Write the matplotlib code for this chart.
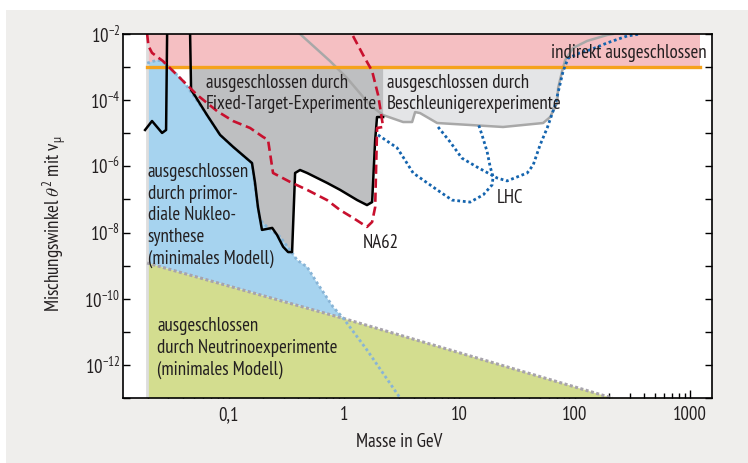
import numpy as np
import matplotlib.pyplot as plt
from matplotlib import font_manager
from matplotlib.patches import Rectangle
from matplotlib.ticker import FixedLocator, LogLocator, NullFormatter

# pick a condensed sans face if one is installed
installed = {f.name for f in font_manager.fontManager.ttflist}
candidates = ['PT Sans Narrow', 'Fira Sans Condensed', 'Roboto Condensed', 'Asap Condensed',
              'Encode Sans Condensed', 'Archivo Narrow', 'Liberation Sans Narrow',
              'Barlow Semi Condensed', 'Open Sans Condensed']
font = next((c for c in candidates if c in installed), 'Liberation Sans')
plt.rcParams['font.family'] = [font, 'DejaVu Sans']
plt.rcParams['mathtext.fontset'] = 'custom'
plt.rcParams['mathtext.rm'] = font
plt.rcParams['mathtext.it'] = font + ':italic'
plt.rcParams['mathtext.sf'] = font

# masses in GeV, mixing angles given as log10(theta^2)
m_bbn = [0.0196, 0.0239, 0.0264, 0.031, 0.0402, 0.049, 0.0648, 0.0841, 0.109, 0.159,
         0.169, 0.187, 0.215, 0.279, 0.340, 0.391, 0.478, 0.583, 0.803, 0.98, 1.58, 3.06]
lt_bbn = [-2.88, -2.79, -2.82, -3.03, -3.42, -3.84, -4.45, -5.05, -5.41, -5.90,
          -6.62, -7.62, -7.83, -8.13, -8.53, -8.83, -9.04, -9.52, -10.25, -10.58, -11.55, -13.0]

m_nu = [0.0196, 1.0, 211]
lt_nu = [-8.92, -10.6, -13.0]

m_fix_a = [0.0188, 0.0216, 0.0264, 0.0286, 0.0292]
lt_fix_a = [-4.90, -4.63, -4.99, -4.90, -2.0]

m_fix = [0.0462, 0.0471, 0.051, 0.0648, 0.0841, 0.109, 0.159, 0.169, 0.179, 0.194,
         0.238, 0.262, 0.296, 0.327, 0.354, 0.376, 0.415, 0.478, 0.712, 0.923,
         1.30, 1.58, 1.75, 1.86, 1.93, 2.18]
lt_fix = [-2.0, -3.69, -3.87, -4.45, -5.05, -5.41, -5.90, -6.50, -7.23, -7.92,
          -7.86, -8.07, -8.43, -8.59, -8.59, -6.20, -6.11, -6.20, -6.50, -6.71,
          -7.02, -7.17, -7.08, -5.20, -4.51, -4.51]

m_acc = [0.415, 0.756, 1.06, 1.68, 2.18, 3.25, 3.89, 4.13, 4.56, 6.41, 12.4, 23.9,
         53.2, 61.2, 70.4, 71.8, 77.8, 82.6, 96.9, 128, 191, 215]
lt_acc = [-2.0, -2.82, -3.33, -4.15, -4.45, -4.66, -4.66, -4.36, -4.39, -4.69, -4.75, -4.81,
          -4.69, -4.51, -4.08, -3.63, -3.12, -2.79, -2.42, -2.21, -2.03, -2.0]

m_na62 = [0.0196, 0.0201, 0.0216, 0.0269, 0.0356, 0.0531, 0.0792, 0.109, 0.153, 0.198,
          0.219, 0.242, 0.340, 0.478, 0.712, 0.923, 1.20, 1.58, 1.75, 1.86, 1.93,
          1.93, 2.18, 2.05, 1.97, 1.75, 1.46, 1.17]
lt_na62 = [-2.0, -2.36, -2.57, -2.82, -3.24, -3.84, -4.33, -4.63, -4.84, -5.11,
           -5.20, -6.20, -6.47, -6.71, -7.02, -7.32, -7.56, -7.83, -7.68, -7.23, -4.90,
           -4.84, -4.81, -4.21, -3.84, -3.12, -2.63, -2.0]

m_lhc_a = [1.97, 2.88, 3.25, 3.97, 6.41, 8.65, 12.4, 16.1, 19.2, 19.6, 18.5, 17.4, 15.7, 14.5]
lt_lhc_a = [-5.05, -5.44, -5.72, -6.20, -6.71, -7.02, -7.08, -6.86, -6.56, -6.32, -6.02,
            -5.56, -5.05, -4.69]

m_lhc_b = [6.53, 8.30, 10.5, 14.2, 21.2, 25.9, 38.7, 43.6, 50.1, 57.7, 67.6, 79.3, 87.7,
           111, 136, 191, 285, 369]
lt_lhc_b = [-4.81, -5.26, -5.75, -6.02, -6.35, -6.44, -6.20, -5.96, -5.35, -4.84, -4.15,
            -3.12, -2.73, -2.57, -2.48, -2.27, -2.06, -2.0]

m_indirect = [0.0196, 1224]
indirect_limit = 1e-3

xticks = [0.1, 1, 10, 100, 1000]
xtick_labels = ['0,1', '1', '10', '100', '1000']
yexp = [-12, -10, -8, -6, -4, -2]

th = lambda v: 10.0 ** np.array(v)
txt = '#231f20'

fig = plt.figure(figsize=(7.48, 4.63), dpi=100, facecolor='white')
fig.patches.append(Rectangle((6 / 748, 0), 1, 1 - 10 / 463, transform=fig.transFigure,
                             facecolor='#efeeec', edgecolor='none', zorder=-10))
ax = fig.add_axes([123 / 748, 1 - 398 / 463, 589 / 748, 364 / 463])
ax.set_xscale('log')
ax.set_yscale('log')
ax.set_xlim(0.0121, 1550)
ax.set_ylim(1e-13, 1e-2)

# size the text so that "Fixed-Target-Experimente" is ~171 px wide, lines 21 px apart
r = fig.canvas.get_renderer()
p1 = fig.text(0, 0, 'Fixed-Target-Experimente', fontsize=11)
p2 = fig.text(0, 0, 'Ay\nAy', fontsize=11, linespacing=1.2)
p3 = fig.text(0, 0, 'Ay', fontsize=11)
fs = 11 * 171 / p1.get_window_extent(r).width
gap = p2.get_window_extent(r).height - p3.get_window_extent(r).height
ls = 1.2 * 21 / (gap * fs / 11)
for p in (p1, p2, p3):
    p.remove()

# filled regions
ax.fill(m_acc, th(lt_acc), color='#e4e5e7', lw=0, zorder=1)
ax.fill_between(m_indirect, indirect_limit, 1e-2, color='#f5bfc2', lw=0, zorder=2)
ax.fill(m_fix[1:] + [m_fix[-1], m_fix[0]], th(lt_fix[1:] + [-3.0, -3.0]),
        color='#bebfc1', lw=0, zorder=3)
ax.fill(m_bbn[:20] + [m_nu[0]], th(lt_bbn[:20] + [lt_nu[0]]), color='#a6d3ef', lw=0, zorder=3)
ax.fill(m_nu + [m_nu[0]], th(lt_nu + [-13.0]), color='#d3dd8f', lw=0, zorder=3)
ax.axvline(0.0196, color='#dddddd', lw=2, zorder=3.5)

# boundary lines
ax.plot(m_nu, th(lt_nu), color='#a7a3ab', lw=2.2, ls=(0, (1, 0.8)), zorder=5)
ax.plot(m_bbn, th(lt_bbn), color='#88b4d6', lw=2, ls=(0, (1, 1)), zorder=5)
ax.plot(m_acc, th(lt_acc), color='#a8a8a8', lw=1.8, zorder=5)
ax.plot(m_indirect, [indirect_limit] * 2, color='#f5a21c', lw=2.4, zorder=6)
ax.plot(m_fix_a, th(lt_fix_a), color='black', lw=1.8, zorder=6)
ax.plot(m_fix, th(lt_fix), color='black', lw=1.8, zorder=6)
ax.plot(m_lhc_a, th(lt_lhc_a), color='#1464ae', lw=2, ls=(0, (1, 1)), zorder=6)
ax.plot(m_lhc_b, th(lt_lhc_b), color='#1464ae', lw=2, ls=(0, (1, 1)), zorder=6)
ax.plot(m_na62, th(lt_na62), color='#c8102e', lw=1.9, ls=(0, (3.5, 1.8)), zorder=7)

# labels
kw = dict(fontsize=fs, color=txt, linespacing=ls, zorder=8)
ax.text(1380, 10 ** -2.57, 'indirekt ausgeschlossen', ha='right', va='center', **kw)
ax.text(0.0635, 10 ** -3.2, 'ausgeschlossen durch\nFixed-Target-Experimente',
        ha='left', va='top', **kw)
ax.text(2.36, 10 ** -3.2, 'ausgeschlossen durch\nBeschleunigerexperimente',
        ha='left', va='top', **kw)
ax.text(0.0198, 10 ** -5.9, 'ausgeschlossen\ndurch primor-\ndiale Nukleo-\nsynthese\n(minimales Modell)',
        ha='left', va='top', **kw)
ax.text(0.0239, 10 ** -10.55, 'ausgeschlossen\ndurch Neutrinoexperimente\n(minimales Modell)',
        ha='left', va='top', **kw)
ax.text(2.09, 10 ** -8.31, 'NA62', ha='center', va='center', **kw)
ax.text(27.5, 10 ** -6.95, 'LHC', ha='center', va='center', **kw)

# axes styling
ax.xaxis.set_major_locator(FixedLocator(xticks))
ax.set_xticklabels(xtick_labels)
ax.xaxis.set_minor_locator(LogLocator(base=10, subs=np.arange(2, 10)))
ax.xaxis.set_minor_formatter(NullFormatter())
ax.yaxis.set_major_locator(FixedLocator([10.0 ** e for e in yexp]))
ax.set_yticklabels([r'$10^{%d}$' % e for e in yexp])
ax.yaxis.set_minor_locator(FixedLocator([10.0 ** (e - 1) for e in yexp]))
ax.yaxis.set_minor_formatter(NullFormatter())
ax.tick_params(which='both', direction='in', top=True, right=True, colors='black',
               labelcolor=txt, labelsize=fs, width=1)
ax.tick_params(axis='x', which='major', length=6, pad=6)
ax.tick_params(axis='x', which='minor', length=3.5)
ax.tick_params(axis='y', which='both', length=5, pad=2)
for s in ax.spines.values():
    s.set_linewidth(1.2)
    s.set_zorder(9)

ax.set_xlabel('Masse in GeV', fontsize=fs, color=txt)
ax.xaxis.set_label_coords(0.469, -0.097)
ax.set_ylabel(r'Mischungswinkel $\theta^2$ mit $\mathrm{v}_\mathrm{\mu}$', fontsize=fs, color=txt)
ax.yaxis.set_label_coords(-0.093, 0.478)

fig.savefig('out.png', dpi=100, facecolor=fig.get_facecolor())
